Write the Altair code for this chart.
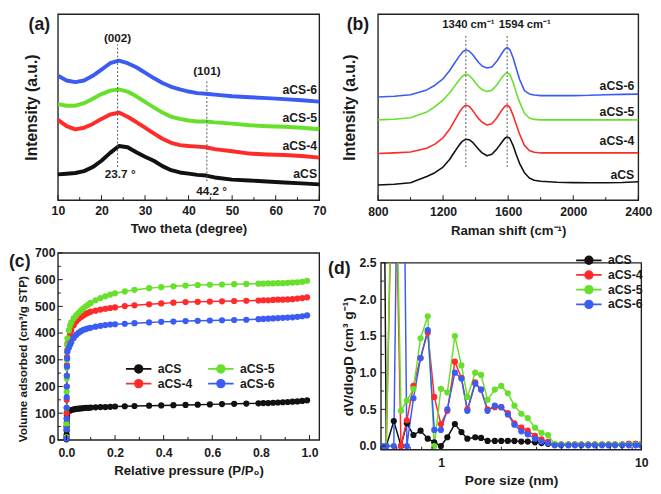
import altair as alt
import pandas as pd

FONT = "Liberation Sans"
INK = "#1a1a1a"

SERIES = ["aCS", "aCS-4", "aCS-5", "aCS-6"]
SERIES_COLORS = ["#111111", "#ff2a2a", "#66e02a", "#3a5cf2"]

# ---------------- (a) XRD ----------------
xrd_theta = [10, 12, 14, 16, 18, 20, 22, 24, 26, 28, 30, 32, 34, 36, 38, 40, 42, 44, 46, 50, 54, 58, 62, 66, 70]
xrd_aCS = [27.3, 28, 28.7, 30.7, 35, 41.7, 50, 57.3, 56, 50.7, 46, 41.7, 36, 31.7, 29.3, 28, 26.7, 26, 24, 21.7, 20.7, 19.7, 18.7, 17.7, 16.7]
xrd_aCS4 = [85, 78.3, 75, 76.7, 80.7, 86, 90.7, 92.7, 88.3, 82.7, 76.7, 70.7, 65, 60.7, 58.3, 57.3, 56.7, 56, 54, 51.7, 49.3, 48.3, 47.7, 46.7, 45]
xrd_aCS5 = [101.7, 100, 100, 102.7, 107.3, 112.3, 116, 117.3, 115, 110, 104, 98.3, 92.7, 88.3, 86, 84.3, 83.3, 83.3, 82.3, 81, 79.3, 78.3, 77.7, 76.7, 75]
xrd_aCS6 = [131.7, 126.7, 125, 126.7, 131.7, 138.3, 145, 147.7, 145, 140.7, 135, 129.3, 124, 120, 117.3, 115, 113.3, 112.7, 111.7, 110, 109, 108, 107, 105.7, 104.3]
xrd_label_text = ["aCS", "aCS-4", "aCS-5", "aCS-6"]
xrd_label_x = [69.5, 69.5, 69.5, 69.5]
xrd_label_y = [28, 57, 87, 117]
xrd_peak_x = [23.7, 44.2]
xrd_peak_bottom = [35, 20]
xrd_peak_top = [165, 128]
xrd_peak_hkl = ["(002)", "(101)"]
xrd_peak_hkl_y = [172, 137]
xrd_peak_val = ["23.7 °", "44.2 °"]
xrd_peak_val_x = [24.3, 45.3]
xrd_peak_val_y = [28, 10]
xrd_ticks_major = [10, 20, 30, 40, 50, 60, 70]
xrd_ticks_minor = [15, 25, 35, 45, 55, 65]

# ---------------- (b) Raman ----------------
raman_x = [800, 900, 1000, 1100, 1150, 1200, 1240, 1270, 1300, 1320, 1340, 1360, 1380, 1400, 1420, 1440, 1470, 1500,
           1530, 1560, 1580, 1594, 1610, 1630, 1650, 1670, 1700, 1730, 1760, 1800, 1900, 2000, 2100, 2200, 2300, 2400]
raman_aCS = [16, 16.7, 18.3, 25, 29, 35, 43, 51, 58.5, 62.5, 64.5, 64, 61.5, 57.5, 53.5, 50, 47, 48.5,
             54, 61, 65.5, 67, 65.5, 58, 48, 39, 29, 23.5, 21, 20, 19, 18.5, 18.3, 18.3, 18.7, 19.5]
raman_aCS4 = [49.3, 50, 51, 55, 59.3, 66, 75, 84, 93, 98, 100.5, 99.5, 95.5, 90.5, 86, 82.5, 79.5, 81,
              87, 95, 99.5, 100.7, 98.5, 90, 80, 70, 58, 52.5, 50.7, 50, 50, 50, 50, 50, 50, 50]
raman_aCS5 = [85, 85.7, 87.3, 93.3, 99, 106, 113.5, 120.5, 127.5, 131.5, 133.3, 132.3, 128.5, 124, 120, 117, 115, 116.5,
              122, 129.5, 133.5, 135, 133, 125, 114, 104, 92, 87, 85.5, 85, 85, 85, 85, 85, 85, 85]
raman_aCS6 = [109.3, 110, 111.7, 116.7, 121.7, 128.5, 137, 145, 152.5, 157, 159, 158, 154.5, 150, 145.5, 142, 140, 141,
              147, 155, 160, 161.7, 159.5, 151, 139.5, 128, 116, 112.5, 111.3, 110.7, 110.7, 110.7, 111, 111.7, 112, 112.3]
raman_label_text = ["aCS", "aCS-4", "aCS-5", "aCS-6"]
raman_label_x = [2375, 2375, 2375, 2375]
raman_label_y = [27, 62, 93, 121]
raman_peak_x = [1340, 1594]
raman_peak_bottom = [35, 35]
raman_peak_top = [175, 175]
raman_peak_text = ["1340 cm⁻¹", "1594 cm⁻¹"]
raman_peak_text_x = [1356, 1702]
raman_peak_text_y = [185, 185]
raman_ticks_major = [800, 1200, 1600, 2000, 2400]
raman_ticks_minor = [1000, 1400, 1800, 2200]

# ---------------- (c) N2 isotherms ----------------
iso_p = [0.0002, 0.0005, 0.0008, 0.001, 0.0013, 0.0016, 0.002, 0.0025, 0.003, 0.004,
         0.01, 0.015, 0.02, 0.03, 0.04, 0.05, 0.06, 0.07, 0.08, 0.09,
         0.10, 0.12, 0.14, 0.16, 0.18, 0.20, 0.24, 0.28, 0.34, 0.39,
         0.44, 0.49, 0.54, 0.59, 0.64, 0.69, 0.74, 0.79, 0.81, 0.83,
         0.85, 0.87, 0.89, 0.91, 0.93, 0.95, 0.97, 0.99]
iso_aCS = [2, 10, 20, 35, 50, 65, 80, 92, 100, 105,
           108, 110, 112, 114, 116, 117, 118, 119, 120, 120,
           121, 122, 123, 123, 124, 125, 126, 127, 128, 129,
           130, 131, 132, 133, 134, 135, 136, 137, 138, 138,
           139, 140, 141, 142, 143, 144, 146, 148]
iso_aCS4 = [10, 50, 100, 150, 200, 240, 280, 310, 335, 360,
            380, 395, 410, 429, 443, 453, 460, 466, 472, 476,
            480, 484, 488, 491, 494, 496, 501, 504, 508, 511,
            514, 516, 517, 518, 519, 520, 521, 522, 523, 523,
            524, 525, 525, 526, 527, 529, 531, 534]
iso_aCS5 = [10, 60, 120, 180, 230, 270, 300, 330, 355, 380,
            410, 428, 440, 455, 466, 476, 485, 493, 500, 507,
            513, 523, 531, 538, 544, 549, 556, 562, 568, 572,
            575, 578, 580, 581, 582, 583, 584, 585, 585, 586,
            586, 587, 587, 588, 589, 590, 592, 596]
iso_aCS6 = [5, 40, 80, 120, 160, 200, 240, 275, 305, 330,
            345, 356, 366, 382, 393, 401, 407, 412, 415, 418,
            420, 424, 427, 430, 432, 433, 435, 437, 440, 442,
            443, 445, 446, 447, 448, 449, 450, 452, 453, 454,
            455, 456, 457, 458, 459, 461, 463, 466]
iso_ticks_x_major = [0, 0.2, 0.4, 0.6, 0.8, 1.0]
iso_ticks_x_minor = [0.1, 0.3, 0.5, 0.7, 0.9]
iso_ticks_y_major = [0, 100, 200, 300, 400, 500, 600, 700]
iso_ticks_y_minor = [50, 150, 250, 350, 450, 550, 650]

# ---------------- (d) pore size distribution ----------------
psd_d = [0.505, 0.532, 0.58, 0.63, 0.674, 0.727, 0.789, 0.857, 0.924, 0.997,
         1.074, 1.171, 1.263, 1.352, 1.48, 1.583, 1.706, 1.854, 1.997, 2.154,
         2.324, 2.515, 2.709, 2.945, 3.173, 3.421, 3.692, 3.977, 4.324, 4.658,
         5.023, 5.437, 5.865, 6.367, 6.868, 7.398, 8.043, 8.664, 9.378, 9.95]
psd_aCS = [8.0, 0.0, 0.34, 0.0, 0.31, 0.15, 0.21, 0.10, 0.05, 0.0,
           0.12, 0.30, 0.19, 0.10, 0.12, 0.11, 0.07, 0.07, 0.07, 0.07,
           0.07, 0.06, 0.06, 0.05, 0.04, 0.03, 0.02, 0.02, 0.02, 0.02,
           0.02, 0.02, 0.02, 0.02, 0.02, 0.02, 0.02, 0.03, 0.03, 0.02]
psd_aCS4 = [0.0, 0.0, 5.0, 0.0, 0.35, 0.82, 1.20, 1.55, 0.67, 0.30,
            0.48, 1.15, 0.93, 0.50, 0.87, 0.77, 0.50, 0.53, 0.53, 0.45,
            0.31, 0.25, 0.21, 0.14, 0.09, 0.06, 0.02, 0.02, 0.02, 0.02,
            0.02, 0.02, 0.02, 0.02, 0.02, 0.02, 0.02, 0.03, 0.03, 0.02]
psd_aCS5 = [0.0, 0.0, 5.3, 0.48, 0.62, 0.78, 1.47, 1.77, 0.0, 0.78,
            0.73, 1.50, 1.10, 0.67, 1.00, 0.97, 0.63, 0.77, 0.82, 0.72,
            0.55, 0.44, 0.38, 0.25, 0.18, 0.15, 0.03, 0.02, 0.02, 0.02,
            0.02, 0.02, 0.02, 0.02, 0.02, 0.02, 0.02, 0.02, 0.02, 0.02]
psd_aCS6 = [0.0, 0.0, 0.0, 8.0, 0.0, 0.65, 1.20, 1.58, 0.22, 0.22,
            0.50, 1.00, 0.92, 0.48, 0.85, 0.77, 0.48, 0.55, 0.53, 0.43,
            0.29, 0.20, 0.16, 0.10, 0.06, 0.04, 0.01, 0.01, 0.01, 0.01,
            0.01, 0.01, 0.01, 0.01, 0.01, 0.01, 0.01, 0.01, 0.01, 0.01]
psd_ticks_x_major = [1, 10]
psd_ticks_x_minor = [0.5, 0.6, 0.7, 0.8, 0.9, 2, 3, 4, 5, 6, 7, 8, 9]
psd_ticks_y_major = [0, 0.5, 1.0, 1.5, 2.0, 2.5]
psd_ticks_y_minor = [0.25, 0.75, 1.25, 1.75, 2.25]

# ---------------- layout ----------------
WA, WB, WC, WD = 267, 266, 267, 266
HT, HB = 190, 191
LEG_PATH = ("M-2,0L-0.72,0M0.72,0L2,0"
            "M-0.6,0A0.6,0.6,0,1,0,0.6,0A0.6,0.6,0,1,0,-0.6,0"
            "M-0.32,0A0.32,0.32,0,1,0,0.32,0A0.32,0.32,0,1,0,-0.32,0"
            "M-0.08,0A0.08,0.08,0,1,0,0.08,0A0.08,0.08,0,1,0,-0.08,0")


def long_df(xs, pairs):
    rows = []
    for name, vals in pairs:
        for xv, yv in zip(xs, vals):
            rows.append({"x": xv, "y": yv, "series": name})
    return pd.DataFrame(rows)


def xaxis(title, values, fmt, label_pad, title_pad, title_size=13.5):
    return alt.Axis(title=title, values=values, format=fmt, labelPadding=label_pad,
                    titlePadding=title_pad, titleFontSize=title_size, labelFlush=False,
                    labelOverlap=False)


class Panel:
    def __init__(self, sx, sy, ax, ay, H):
        self.sx, self.sy, self.ax, self.ay, self.H = sx, sy, ax, ay, H

    def X(self):
        return alt.X("x:Q", scale=self.sx, axis=self.ax)

    def Y(self):
        return alt.Y("y:Q", scale=self.sy, axis=self.ay)

    def xticks(self, vals, length):
        return alt.Chart(pd.DataFrame({"x": vals})).mark_rule(color=INK, strokeWidth=1).encode(
            x=self.X(), y=alt.value(self.H), y2=alt.value(self.H - length))

    def yticks(self, vals, length):
        return alt.Chart(pd.DataFrame({"y": vals})).mark_rule(color=INK, strokeWidth=1).encode(
            y=self.Y(), x=alt.value(0), x2=alt.value(length))

    def texts(self, xs, ys, labels, align="center", size=12.5):
        return alt.Chart(pd.DataFrame({"x": xs, "y": ys, "t": labels})).mark_text(
            font=FONT, fontSize=size, fontWeight="bold", align=align, baseline="middle", color=INK
        ).encode(x=self.X(), y=self.Y(), text="t:N")

    def dashes(self, xs, y1, y2):
        return alt.Chart(pd.DataFrame({"x": xs, "y": y1, "y2": y2})).mark_rule(
            strokeDash=[2, 2], color="#555555", strokeWidth=1
        ).encode(x=self.X(), y=self.Y(), y2="y2:Q")


def panel_label(text, dx, dy):
    return alt.Chart(pd.DataFrame({"t": [text]})).mark_text(
        font=FONT, fontSize=18, fontWeight="bold", align="left", baseline="middle", color=INK
    ).encode(text="t:N", x=alt.value(dx), y=alt.value(dy))


color_plain = alt.Color("series:N", scale=alt.Scale(domain=SERIES, range=SERIES_COLORS), legend=None)

# ---- (a)
pa = Panel(alt.Scale(domain=[10, 70], nice=False, zero=False),
           alt.Scale(domain=[0, 197], nice=False, zero=False),
           xaxis("Two theta (degree)", xrd_ticks_major, "d", 5, 5),
           alt.Axis(title="Intensity (a.u.)", labels=False, titlePadding=19, titleFontSize=16), HT)
df_a = long_df(xrd_theta, [("aCS", xrd_aCS), ("aCS-4", xrd_aCS4), ("aCS-5", xrd_aCS5), ("aCS-6", xrd_aCS6)])
panel_a = alt.layer(
    alt.Chart(df_a).mark_line(strokeWidth=4, strokeJoin="round").encode(x=pa.X(), y=pa.Y(), color=color_plain),
    pa.dashes(xrd_peak_x, xrd_peak_bottom, xrd_peak_top),
    pa.texts(xrd_peak_x, xrd_peak_hkl_y, xrd_peak_hkl, size=12),
    pa.texts(xrd_peak_val_x, xrd_peak_val_y, xrd_peak_val, size=12),
    pa.texts(xrd_label_x, xrd_label_y, xrd_label_text, align="right"),
    pa.xticks(xrd_ticks_major, 5),
    pa.xticks(xrd_ticks_minor, 3),
    panel_label("(a)", -30, 11),
).properties(width=WA, height=HT)

# ---- (b)
pb = Panel(alt.Scale(domain=[800, 2400], nice=False, zero=False),
           alt.Scale(domain=[0, 197], nice=False, zero=False),
           xaxis("Raman shift (cm⁻¹)", raman_ticks_major, "d", 6, 6),
           alt.Axis(title="Intensity (a.u.)", labels=False, titlePadding=21, titleFontSize=16), HT)
df_b = long_df(raman_x, [("aCS", raman_aCS), ("aCS-4", raman_aCS4), ("aCS-5", raman_aCS5), ("aCS-6", raman_aCS6)])
panel_b = alt.layer(
    alt.Chart(df_b).mark_line(strokeWidth=1.6, strokeJoin="round").encode(x=pb.X(), y=pb.Y(), color=color_plain),
    pb.dashes(raman_peak_x, raman_peak_bottom, raman_peak_top),
    pb.texts(raman_peak_text_x, raman_peak_text_y, raman_peak_text, size=11.5),
    pb.texts(raman_label_x, raman_label_y, raman_label_text, align="right"),
    pb.xticks(raman_ticks_major, 5),
    pb.xticks(raman_ticks_minor, 3),
    panel_label("(b)", -32, 11),
).properties(width=WB, height=HT)

# ---- (c)
pc = Panel(alt.Scale(domain=[-0.035, 1.04], nice=False, zero=False),
           alt.Scale(domain=[0, 700], nice=False, zero=False),
           xaxis("Relative pressure (P/P₀)", iso_ticks_x_major, ".1f", 7, 5),
           alt.Axis(title="Volume adsorbed (cm³/g STP)", values=iso_ticks_y_major, format="d",
                    labelPadding=3, titlePadding=5, titleFontSize=12, titleY=108), HB)
df_c = long_df(iso_p, [("aCS", iso_aCS), ("aCS-4", iso_aCS4), ("aCS-5", iso_aCS5), ("aCS-6", iso_aCS6)])
color_c = alt.Color("series:N", scale=alt.Scale(domain=SERIES, range=SERIES_COLORS),
                    legend=alt.Legend(orient="none", legendX=75, legendY=111, columns=2, title=None,
                                      symbolType=LEG_PATH, symbolSize=169, symbolStrokeWidth=1.8,
                                      labelOffset=12, columnPadding=11, rowPadding=0, padding=0))
base_c = alt.Chart(df_c).encode(x=pc.X(), y=pc.Y(), color=color_c)
panel_c = alt.layer(
    base_c.mark_line(strokeWidth=1.5),
    base_c.mark_point(filled=True, size=40, opacity=1),
    pc.xticks(iso_ticks_x_major, 5),
    pc.xticks(iso_ticks_x_minor, 3),
    pc.yticks(iso_ticks_y_major, 5),
    pc.yticks(iso_ticks_y_minor, 3),
    panel_label("(c)", -50, 9),
).properties(width=WC, height=HB)

# ---- (d)
pdp = Panel(alt.Scale(type="log", domain=[0.5, 10], nice=False),
            alt.Scale(domain=[-0.05, 2.5], nice=False, zero=False),
            xaxis("Pore size (nm)", psd_ticks_x_major, "~g", 7, 5, 14),
            alt.Axis(title="dV/dlogD (cm³ g⁻¹)", values=psd_ticks_y_major, format=".1f",
                     labelPadding=5, titlePadding=4, titleFontSize=14), HB)
df_d = long_df(psd_d, [("aCS", psd_aCS), ("aCS-4", psd_aCS4), ("aCS-5", psd_aCS5), ("aCS-6", psd_aCS6)])
color_d = alt.Color("series:N", scale=alt.Scale(domain=SERIES, range=SERIES_COLORS),
                    legend=alt.Legend(orient="none", legendX=205, legendY=0, title=None,
                                      symbolType=LEG_PATH, symbolSize=169, symbolStrokeWidth=1.8,
                                      labelOffset=12, rowPadding=0, padding=0))
base_d = alt.Chart(df_d).encode(x=pdp.X(), y=pdp.Y(), color=color_d)
panel_d = alt.layer(
    base_d.mark_line(strokeWidth=1.5, clip=True),
    base_d.mark_point(filled=True, size=40, opacity=1, clip=True),
    pdp.xticks(psd_ticks_x_major, 5),
    pdp.xticks(psd_ticks_x_minor, 3),
    pdp.yticks(psd_ticks_y_major, 5),
    pdp.yticks(psd_ticks_y_minor, 3),
    panel_label("(d)", -54, 6),
).properties(width=WD, height=HB)

# small empty spacer so panel (d) sits a little lower than panel (c), as in the figure
spacer = alt.Chart(pd.DataFrame({"s": [0]})).mark_point(opacity=0).encode(
    x=alt.value(0), y=alt.value(0)
).properties(width=1, height=1, view=alt.ViewBackground(stroke=None))
d_col = alt.vconcat(spacer, panel_d, spacing=0)

row1 = alt.hconcat(panel_a, panel_b, spacing=14)
row2 = alt.hconcat(panel_c, d_col, spacing=7).resolve_scale(color="independent").resolve_legend(color="independent")
chart = alt.vconcat(row1, row2, spacing=8).resolve_scale(color="independent").resolve_legend(color="independent")
chart = chart.properties(padding={"left": 0, "top": 0, "right": 0, "bottom": 0}).configure_view(
    stroke="#222222", strokeWidth=1.4
).configure_axis(
    grid=False, domain=False, ticks=False, labelFont=FONT, titleFont=FONT, labelFontWeight="bold",
    titleFontWeight="bold", labelColor=INK, titleColor=INK, labelFontSize=12.5, titleFontSize=13.5
).configure_legend(
    labelFont=FONT, labelFontWeight="bold", labelFontSize=12.5, labelColor=INK
).configure_title(font=FONT)

chart.save("out.html", embed_options={"renderer": "svg", "actions": False})
